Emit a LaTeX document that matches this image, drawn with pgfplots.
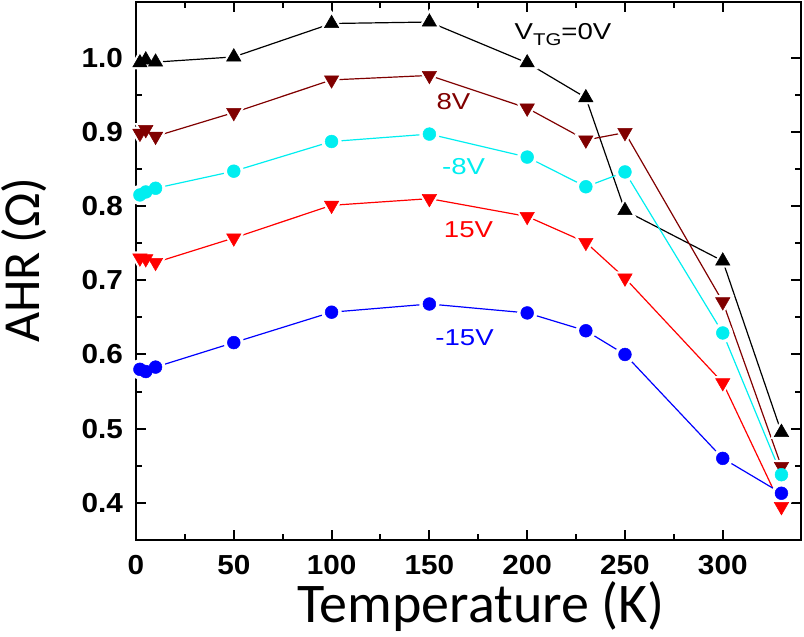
\documentclass[border=0pt]{standalone}
\usepackage{pgfplots}
\usepackage{pgfplotstable}
\pgfplotsset{compat=1.18}
\usepackage{fontspec}
\setmainfont{Liberation Sans}
\newfontfamily\calfont{Carlito}
\definecolor{cbrown}{RGB}{128,0,0}
\definecolor{ccyan}{RGB}{0,238,240}
\definecolor{cred}{RGB}{255,0,0}
\definecolor{cblue}{RGB}{0,0,255}

\pgfplotstableread{
T   black brown cyan  red   blue
2   0.993 0.898 0.815 0.730 0.580
5   0.997 0.903 0.819 0.729 0.577
10  0.994 0.894 0.824 0.724 0.583
50  1.001 0.926 0.847 0.757 0.616
100 1.046 0.970 0.887 0.801 0.657
150 1.048 0.976 0.897 0.810 0.668
200 0.993 0.932 0.866 0.786 0.656
230 0.946 0.889 0.826 0.751 0.632
250 0.794 0.899 0.846 0.703 0.600
300 0.726 0.671 0.629 0.562 0.460
330 0.495 0.449 0.438 0.395 0.413
}\data

\newcommand\tl[1]{\scalebox{1.08}[1]{#1}}
\newcommand\al[1]{\scalebox{1.2}[1]{#1}}

\begin{document}
\begin{tikzpicture}
\path[use as bounding box] (-136bp,-97bp) rectangle (668bp,540bp);
\begin{axis}[
  at={(0,0)}, anchor=south west,
  scale only axis, width=665bp, height=538bp,
  xmin=0, xmax=340, ymin=0.35, ymax=1.075,
  xtick={0,50,...,300}, ytick={0.4,0.5,...,1.0},
  minor x tick num=1, minor y tick num=1,
  tick align=inside,
  major tick length=10bp, minor tick length=6bp,
  every tick/.style={black, line width=2bp},
  axis line style={line width=2.4bp},
  /pgf/number format/assume math mode=true,
  xticklabel={\tl{\pgfmathprintnumber{\tick}}},
  yticklabel={\tl{\pgfmathprintnumber[fixed,fixed zerofill,precision=1]{\tick}}},
  xticklabel style={font=\fontsize{27.5bp}{27.5bp}\selectfont\bfseries, inner sep=0pt, anchor=north, yshift=-15bp},
  yticklabel style={font=\fontsize{27.5bp}{27.5bp}\selectfont\bfseries, inner sep=0pt, anchor=east, xshift=-13bp},
  xlabel={Temperature (K)},
  ylabel={AHR\,(Ω)},
  xlabel style={font=\calfont\fontsize{56bp}{56bp}\selectfont, at={(axis description cs:0.519,-0.1525)}, anchor=base, inner sep=0pt},
  ylabel style={font=\calfont\fontsize{52bp}{52bp}\selectfont, at={(axis description cs:-0.1454,0.52)}, anchor=base, rotate=0, inner sep=0pt},
]
% lines with white halos
\addplot[black, line width=1.2bp, mark=triangle*, mark size=12bp, mark options={white, draw=white}] table[x=T,y=black]{\data};
\addplot[cbrown, line width=1.2bp, mark=triangle*, mark size=12bp, mark options={white, draw=white, rotate=180}] table[x=T,y=brown]{\data};
\addplot[ccyan, line width=1.2bp, mark=*, mark size=9.5bp, mark options={white, draw=white}] table[x=T,y=cyan]{\data};
\addplot[cred, line width=1.2bp, mark=triangle*, mark size=12bp, mark options={white, draw=white, rotate=180}] table[x=T,y=red]{\data};
\addplot[cblue, line width=1.2bp, mark=*, mark size=9.5bp, mark options={white, draw=white}] table[x=T,y=blue]{\data};
% markers
\addplot[only marks, mark=triangle*, mark size=8.3bp, mark options={fill=black, draw=black, line width=0.5bp}] table[x=T,y=black]{\data};
\addplot[only marks, mark=triangle*, mark size=8.3bp, mark options={fill=cbrown, draw=cbrown, line width=0.5bp, rotate=180}] table[x=T,y=brown]{\data};
\addplot[only marks, mark=*, mark size=6.4bp, mark options={fill=ccyan, draw=ccyan, line width=0.5bp}] table[x=T,y=cyan]{\data};
\addplot[only marks, mark=triangle*, mark size=8.3bp, mark options={fill=cred, draw=cred, line width=0.5bp, rotate=180}] table[x=T,y=red]{\data};
\addplot[only marks, mark=*, mark size=6.4bp, mark options={fill=cblue, draw=cblue, line width=0.5bp}] table[x=T,y=blue]{\data};
% annotations
\node[black, anchor=base west, inner sep=0pt, font=\fontsize{23bp}{23bp}\selectfont] at (axis cs:193.5,1.025) {\al{V\raisebox{-6.5bp}{\fontsize{17bp}{17bp}\selectfont TG}=0V}};
\node[cbrown, anchor=base, inner sep=0pt, font=\fontsize{23bp}{23bp}\selectfont] at (axis cs:162.3,0.930) {\al{8V}};
\node[ccyan, anchor=base, inner sep=0pt, font=\fontsize{23bp}{23bp}\selectfont] at (axis cs:167.5,0.842) {\al{-8V}};
\node[cred, anchor=base, inner sep=0pt, font=\fontsize{23bp}{23bp}\selectfont] at (axis cs:170,0.758) {\al{15V}};
\node[cblue, anchor=base, inner sep=0pt, font=\fontsize{23bp}{23bp}\selectfont] at (axis cs:168,0.612) {\al{-15V}};
\end{axis}
\end{tikzpicture}
\end{document}
